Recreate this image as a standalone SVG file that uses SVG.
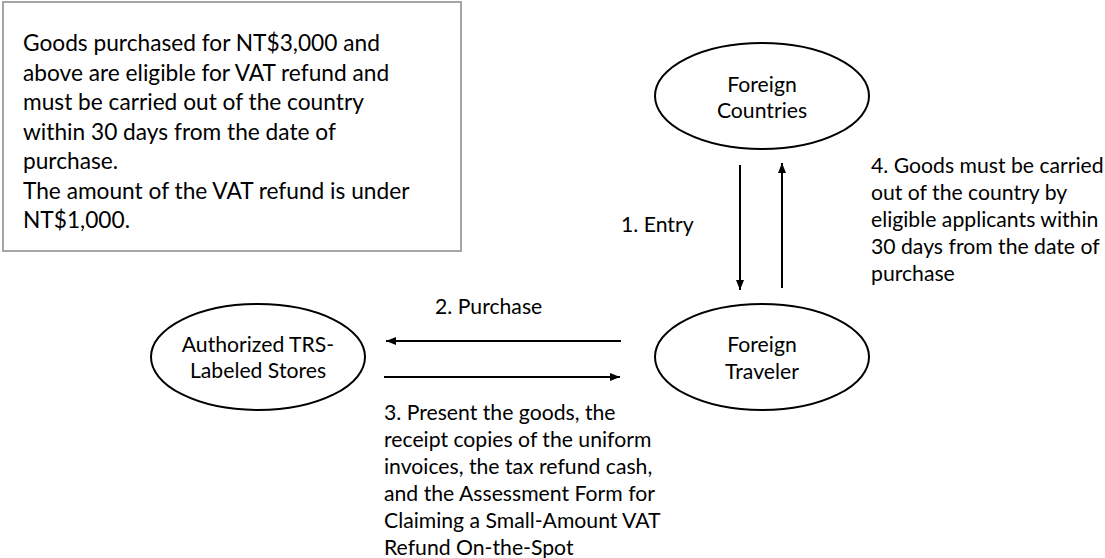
<svg xmlns="http://www.w3.org/2000/svg" width="1105" height="558" viewBox="0 0 1105 558">
<style>
text{font-family:Lato,"Open Sans","Liberation Sans",sans-serif;fill:#000}
.b{font-size:22.7px}
.t{font-size:21.2px}
.n{fill:#fff;stroke:#000;stroke-width:2}
.c{stroke:#000;stroke-width:2;fill:none;marker-end:url(#ah)}
</style>
<defs>
<marker id="ah" markerWidth="10" markerHeight="8" refX="10" refY="4" orient="auto" markerUnits="userSpaceOnUse">
<path d="M0,0 L10,4 L0,8 Z" fill="#000"/>
</marker>
</defs>
<rect width="1105" height="558" fill="#fff"/>
<g id="note">
<rect x="3" y="2" width="458" height="249" fill="#fff" stroke="#a6a6a6" stroke-width="2"/>
<text class="b" x="23" y="51">Goods purchased for NT$3,000 and</text>
<text class="b" x="23" y="80.5">above are eligible for VAT refund and</text>
<text class="b" x="23" y="110">must be carried out of the country</text>
<text class="b" x="23" y="139.5">within 30 days from the date of</text>
<text class="b" x="23" y="169">purchase.</text>
<text class="b" x="23" y="198.5">The amount of the VAT refund is under</text>
<text class="b" x="23" y="228">NT$1,000.</text>
</g>
<g id="foreign-countries">
<ellipse class="n" cx="762" cy="96" rx="107" ry="53"/>
<text class="t" x="762" y="92" text-anchor="middle">Foreign</text>
<text class="t" x="762" y="118" text-anchor="middle">Countries</text>
</g>
<g id="foreign-traveler">
<ellipse class="n" cx="762" cy="357" rx="107" ry="53"/>
<text class="t" x="762" y="352" text-anchor="middle">Foreign</text>
<text class="t" x="762" y="379" text-anchor="middle">Traveler</text>
</g>
<g id="stores">
<ellipse class="n" cx="258" cy="357" rx="107" ry="53"/>
<text class="t" x="258" y="352" text-anchor="middle">Authorized TRS-</text>
<text class="t" x="258" y="378" text-anchor="middle">Labeled Stores</text>
</g>
<g id="connectors">
<line class="c" x1="740" y1="165" x2="740" y2="290"/>
<line class="c" x1="782" y1="288" x2="782" y2="163"/>
<line class="c" x1="621" y1="341" x2="386" y2="341"/>
<line class="c" x1="384" y1="377" x2="620" y2="377"/>
</g>
<g id="labels">
<text class="t" x="621" y="232">1. Entry</text>
<text class="t" x="871" y="173">4. Goods must be carried</text>
<text class="t" x="871" y="200">out of the country by</text>
<text class="t" x="871" y="227">eligible applicants within</text>
<text class="t" x="871" y="254">30 days from the date of</text>
<text class="t" x="871" y="281">purchase</text>
<text class="t" x="435" y="314">2. Purchase</text>
<text class="t" x="384" y="420">3. Present the goods, the</text>
<text class="t" x="384" y="447">receipt copies of the uniform</text>
<text class="t" x="384" y="474">invoices, the tax refund cash,</text>
<text class="t" x="384" y="501">and the Assessment Form for</text>
<text class="t" x="384" y="528">Claiming a Small-Amount VAT</text>
<text class="t" x="384" y="555">Refund On-the-Spot</text>
</g>
</svg>
